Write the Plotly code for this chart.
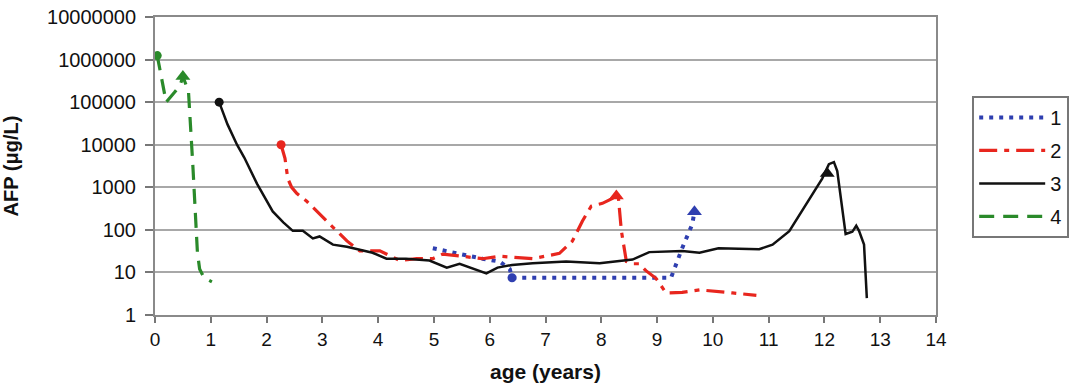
import plotly.graph_objects as go

# ---------------- data ----------------
series_names = ["1", "2", "3", "4"]
series_colors = ["#2f3fb0", "#e8261e", "#111111", "#2a8a2a"]

x1 = [4.98, 5.46, 5.87, 6.18, 6.36, 6.4, 7.0, 8.0, 9.25, 9.45, 9.63, 9.67]
y1 = [37, 27, 21, 18, 12, 7.5, 7.5, 7.5, 7.5, 37, 135, 265]

x2 = [2.26, 2.33, 2.38, 2.45, 2.54, 2.72, 3.08, 3.44, 3.67, 4.03, 4.39, 4.69,
      4.98, 5.16, 5.5, 5.87, 6.18, 6.77, 7.25, 7.48, 7.66, 7.82, 8.02, 8.2,
      8.3, 8.36, 8.45, 8.56, 8.68, 8.8, 8.98, 9.16, 9.45, 9.76, 10.35, 10.78]
y2 = [10000, 4800, 1600, 1000, 720, 470, 160, 55, 32, 32, 19, 21,
      21, 27, 24, 21, 24, 21, 28, 54, 160, 360, 420, 550,
      720, 95, 18, 16, 16, 11, 7.3, 3.3, 3.4, 3.9, 3.3, 2.9]

x3 = [1.15, 1.3, 1.47, 1.6, 1.83, 2.0, 2.11, 2.3, 2.47, 2.65, 2.83, 2.95,
      3.19, 3.44, 3.9, 4.15, 4.5, 4.92, 5.23, 5.46, 5.69, 5.94, 6.14, 6.4,
      6.77, 7.37, 7.97, 8.56, 8.86, 9.45, 9.76, 10.1, 10.83, 11.07, 11.37,
      11.67, 11.96, 12.08, 12.17, 12.23, 12.38, 12.5, 12.57, 12.62, 12.71, 12.76]
y3 = [100000, 30000, 10000, 5000, 1200, 470, 270, 150, 95, 95, 63, 70,
      45, 40, 29, 21, 21, 19, 13, 16, 12.6, 9.5, 13, 15,
      16.5, 18, 16.5, 20, 30, 32, 29, 37, 35, 45, 93,
      400, 1600, 3500, 3900, 2400, 80, 90, 125, 95, 45, 2.5]

x4 = [0.04, 0.2, 0.35, 0.45, 0.5, 0.6, 0.68, 0.73, 0.76, 0.8, 0.88, 1.02]
y4 = [1240000, 100000, 170000, 250000, 400000, 180000, 3000, 100, 30, 12, 7.5, 6]

start_x = [6.4, 2.26, 1.15, 0.04]
start_y = [7.5, 10000, 100000, 1240000]
tri_x = [9.67, 8.27, 12.05, 0.5]
tri_y = [265, 620, 2100, 400000]

x_ticks = list(range(0, 15))
y_tickvals = [1, 10, 100, 1000, 10000, 100000, 1000000, 10000000]
y_ticktext = ["1", "10", "100", "1000", "10000", "100000", "1000000", "10000000"]

# ---------------- styles ----------------
dashes = ["4px,6px", "18px,7px,5px,7px", "solid", "15px,9px"]
widths = [4, 3.2, 2.5, 3.2]
FONT = "Liberation Sans, Arial, sans-serif"

fig = go.Figure()
xs = [x1, x2, x3, x4]
ys = [y1, y2, y3, y4]
for i in range(4):
    fig.add_trace(go.Scatter(
        x=xs[i], y=ys[i], mode="lines", name=series_names[i],
        legendgroup=series_names[i],
        line=dict(color=series_colors[i], width=widths[i], dash=dashes[i]),
    ))
for i in range(4):
    fig.add_trace(go.Scatter(
        x=[start_x[i]], y=[start_y[i]], mode="markers", showlegend=False,
        legendgroup=series_names[i],
        marker=dict(symbol="circle", size=9, color=series_colors[i]),
    ))
    fig.add_trace(go.Scatter(
        x=[tri_x[i]], y=[tri_y[i]], mode="markers", showlegend=False,
        legendgroup=series_names[i],
        marker=dict(symbol="triangle-up", size=13, color=series_colors[i]),
    ))

fig.update_layout(
    width=1080, height=387,
    margin=dict(l=155, r=143, t=17, b=72),
    paper_bgcolor="white", plot_bgcolor="white",
    font=dict(family=FONT, size=20, color="#111111"),
    showlegend=True,
    legend=dict(
        x=1.045, xanchor="left", y=0.735, yanchor="top",
        bordercolor="#777777", borderwidth=2, bgcolor="white",
        font=dict(family=FONT, size=20, color="#111111"),
        itemwidth=66, tracegroupgap=4,
    ),
    xaxis=dict(
        range=[0, 14], tickvals=x_ticks, ticktext=[str(t) for t in x_ticks],
        showgrid=False, zeroline=False, automargin=False,
        showline=True, linecolor="#8a8a8a", linewidth=2, mirror=True,
        ticks="outside", ticklen=6, tickwidth=1.5, tickcolor="#777777",
        tickfont=dict(family=FONT, size=19),
        ticklabeloverflow="allow",
        title=dict(text="<b>age (years)</b>", font=dict(size=21), standoff=16),
    ),
    yaxis=dict(
        type="log", range=[0, 7],
        tickvals=y_tickvals, ticktext=y_ticktext,
        showgrid=True, gridcolor="#a8a8a8", gridwidth=2,
        zeroline=False, automargin=False,
        showline=True, linecolor="#8a8a8a", linewidth=2, mirror=True,
        ticks="outside", ticklen=8, tickwidth=1.5, tickcolor="#777777",
        ticklabelstandoff=5, ticklabeloverflow="allow",
        tickfont=dict(family=FONT, size=20),
        title=dict(text="<b>AFP (μg/L)</b>", font=dict(size=20), standoff=25),
    ),
)

# remove the browser's default 8px body margin so the figure fills the window
fig.write_html(
    "out.html",
    config={"displayModeBar": False},
    post_script="document.body.style.margin='0';document.body.style.overflow='hidden';",
)
